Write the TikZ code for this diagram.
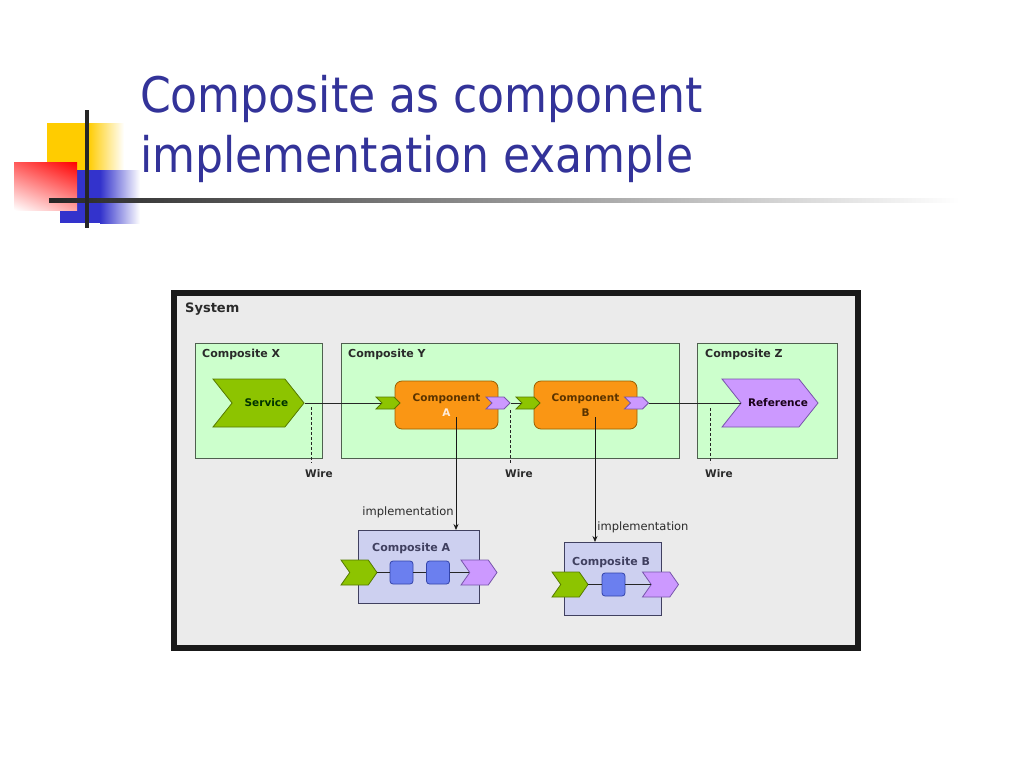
\documentclass[tikz,border=0pt]{standalone}
\usepackage{fontspec}
\setmainfont{DejaVu Sans}
\newfontfamily\titlefont{DejaVu Sans Condensed}
\usetikzlibrary{arrows.meta,positioning,shapes.symbols,shadings,calc}

\definecolor{titleblue}{HTML}{333399}
\definecolor{logoyellow}{HTML}{FFCC00}
\definecolor{logoblue}{HTML}{3333CC}
\definecolor{sysgray}{HTML}{EBEBEB}
\definecolor{boxgreen}{HTML}{CCFFCC}
\definecolor{boxedge}{HTML}{4F604F}
\definecolor{svcgreen}{HTML}{8DC400}
\definecolor{svcedge}{HTML}{557A00}
\definecolor{refpurple}{HTML}{CC99FF}
\definecolor{refedge}{HTML}{7755AA}
\definecolor{comporange}{HTML}{FA9614}
\definecolor{compedge}{HTML}{9A6000}
\definecolor{comptext}{HTML}{5A3300}
\definecolor{implfill}{HTML}{CDD0F0}
\definecolor{impledge}{HTML}{404060}
\definecolor{bluesqfill}{HTML}{6B7FEF}
\definecolor{bluesqedge}{HTML}{3344AA}
\definecolor{labeltext}{HTML}{2A2A2A}

\begin{document}
\begin{tikzpicture}[x=1pt, y=-1pt,
    % --- Text styles ---
    titletext/.style={font=\titlefont\fontsize{49}{60}\selectfont, text=titleblue, inner sep=0pt},
    syslabel/.style={font=\bfseries\fontsize{13}{15}\selectfont, text=labeltext, inner sep=0pt},
    boxlabel/.style={font=\bfseries\fontsize{11}{13}\selectfont, text=labeltext, inner sep=0pt},
    wirelabel/.style={font=\bfseries\fontsize{10.5}{12}\selectfont, text=labeltext, inner sep=0pt},
    impllabel/.style={font=\fontsize{11.5}{13}\selectfont, text=labeltext, inner sep=2pt},
    chevtext/.style={font=\bfseries\fontsize{10.5}{12}\selectfont, inner sep=0pt},
    % --- Box styles ---
    sysframe/.style={draw=black!90, fill=sysgray, line width=6pt, inner sep=0pt, outer sep=0pt},
    composite/.style={draw=boxedge, fill=boxgreen, line width=0.8pt, inner sep=0pt, outer sep=0pt},
    implbox/.style={composite, draw=impledge, fill=implfill},
    component/.style={draw=compedge, fill=comporange, rounded corners=7pt, line width=0.8pt,
                      minimum width=103, minimum height=48, align=center, inner sep=0pt,
                      font=\bfseries\fontsize{10.5}{15}\selectfont, text=comptext},
    bluesq/.style={draw=bluesqedge, fill=bluesqfill, rounded corners=3pt, line width=0.8pt,
                   minimum width=23, minimum height=23, inner sep=0pt},
    % --- Chevron styles ---
    chevron/.style={signal, signal to=east, signal from=west, line width=0.8pt, inner sep=0pt},
    svcport/.style={chevron, draw=svcedge, fill=svcgreen},
    refport/.style={chevron, draw=refedge, fill=refpurple},
    portin/.style={svcport, minimum width=24, minimum height=12, signal pointer angle=90},
    portout/.style={refport, minimum width=24, minimum height=12, signal pointer angle=90},
    smallin/.style={svcport, minimum width=36, minimum height=25, signal pointer angle=110},
    smallout/.style={refport, minimum width=36, minimum height=25, signal pointer angle=110},
    % --- Line styles ---
    wire/.style={draw=black!85, line width=0.8pt},
    tapline/.style={draw=black!85, line width=0.8pt, dash pattern=on 3pt off 2pt},
    implarrow/.style={-{Stealth[length=6pt, width=5pt]}, draw=black!90, line width=0.8pt},
]
\useasboundingbox (0,0) rectangle (1024,768);

% === Logo in the corner ===
\fill[logoyellow] (47,123) rectangle (88,170);
\shade[left color=logoyellow, right color=white] (88,123) rectangle (124,170);
\fill[logoblue] (60,170) rectangle (100,223);
\shade[left color=logoblue, right color=white] (100,170) rectangle (140,223);
\shade[upper left=red!65!white, upper right=red, lower left=white, lower right=red!35!white]
  (14,162) rectangle (77,210);
\shade[left color=black!85, middle color=black!55, right color=white] (49,198) rectangle (960,202);
\fill[black!85] (85,110) rectangle (89,228);

% === Title ===
\node[titletext, anchor=base west] (title1) at (140,112) {Composite as component};
\node[titletext, anchor=base west] (title2) at (140,172) {implementation example};

% === System frame ===
\node[sysframe, minimum width=684, minimum height=355, anchor=north west] (system) at (174,293) {};
\node[syslabel, below right=10pt and 11pt of system.north west] (systitle) {System};

% === The three composites ===
\node[composite, minimum width=127, minimum height=115, anchor=north west] (compX) at (195,343) {};
\node[composite, minimum width=338, minimum height=115, anchor=north west] (compY) at (341,343) {};
\node[composite, minimum width=140, minimum height=115, anchor=north west] (compZ) at (697,343) {};
\node[boxlabel, below right=6pt and 7pt of compX.north west] (labX) {Composite X};
\node[boxlabel, below right=6pt and 7pt of compY.north west] (labY) {Composite Y};
\node[boxlabel, below right=6pt and 8pt of compZ.north west] (labZ) {Composite Z};

% === Service, components and reference ===
\node[svcport, minimum width=91, minimum height=48, signal pointer angle=103] (service) at (258.5,403) {};
\node[chevtext, text=black!80!green] (svctext) at ([xshift=8pt]service.center) {Service};
\node[component] (compA) at (446.5,405) {Component\\{\color{white!85!orange}A}};
\node[component] (compB) at (585.5,405) {Component\\B};
\node[portin]  (aIn)  at (388,403) {};
\node[portout] (aOut) at (498,403) {};
\node[portin]  (bIn)  at (528,403) {};
\node[portout] (bOut) at (636.5,403) {};
\node[refport, minimum width=96, minimum height=48, signal pointer angle=103] (reference) at (770,403) {};
\node[chevtext, text=black!80!violet] (reftext) at ([xshift=8pt]reference.center) {Reference};

% === Wires ===
\draw[wire] (service.east) -- (aIn.west);
\draw[wire] (aOut.east) -- (bIn.west);
\draw[wire] (bOut.east) -- (reference.west);

\coordinate (tap1a) at (311,407);
\coordinate (tap1b) at (311,463);
\coordinate (tap2a) at (510,410);
\coordinate (tap2b) at (510,463);
\coordinate (tap3a) at (710,408);
\coordinate (tap3b) at (710,463);
\draw[tapline] (tap1a) -- (tap1b);
\draw[tapline] (tap2a) -- (tap2b);
\draw[tapline] (tap3a) -- (tap3b);
\node[wirelabel, below right=6pt and -6pt of tap1b] (wire1) {Wire};
\node[wirelabel, below right=6pt and -5pt of tap2b] (wire2) {Wire};
\node[wirelabel, below right=6pt and -5pt of tap3b] (wire3) {Wire};

% === Composite A and B as implementations ===
\node[implbox, minimum width=121, minimum height=73] (compositeA) at (418.5,566.5) {};
\node[boxlabel, text=impledge, below right=13pt and 14pt of compositeA.north west] (labA) {Composite A};
\node[smallin]  (aaIn)  at (359,572.5) {};
\node[bluesq]   (aa1)   at (401.5,572.5) {};
\node[bluesq]   (aa2)   at (438,572.5) {};
\node[smallout] (aaOut) at (479,572.5) {};
\draw[wire] (aaIn.east) -- (aa1) -- (aa2) -- (aaOut.west);

\node[implbox, minimum width=97, minimum height=73] (compositeB) at (612.5,578.5) {};
\node[boxlabel, text=impledge, below right=15pt and 8pt of compositeB.north west] (labB) {Composite B};
\node[smallin]  (bbIn)  at (570,584.5) {};
\node[bluesq]   (bb1)   at (613.5,584.5) {};
\node[smallout] (bbOut) at (660.5,584.5) {};
\draw[wire] (bbIn.east) -- (bb1) -- (bbOut.west);

% === Implementation arrows ===
\coordinate (implA) at (456,417);
\coordinate (implB) at (595,417);
\draw[implarrow] (implA) -- node[impllabel, left, pos=0.84] {implementation} (implA |- compositeA.north);
\draw[implarrow] (implB) -- node[impllabel, right, pos=0.88] {implementation} (implB |- compositeB.north);

\end{tikzpicture}
\end{document}
